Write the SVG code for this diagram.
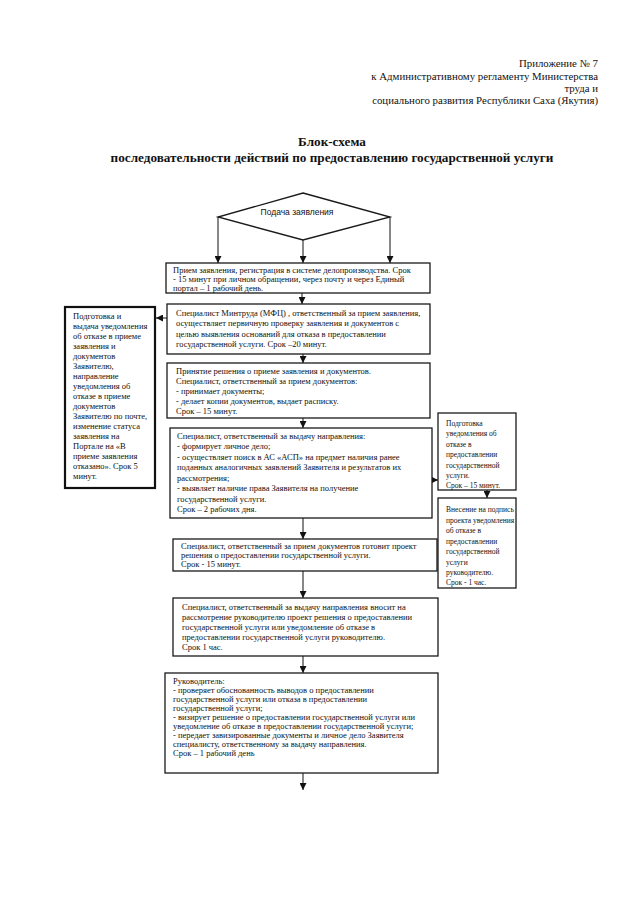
<svg xmlns="http://www.w3.org/2000/svg" width="631" height="905" viewBox="0 0 631 905">
<style>
.bg{fill:#ffffff}
.hd{font-family:"Liberation Serif","Times New Roman",serif;font-size:10.8px;fill:#111}
.tt{font-family:"Liberation Serif","Times New Roman",serif;font-size:13.2px;font-weight:bold;fill:#111}
.t{font-family:"Liberation Serif","Times New Roman",serif;font-size:8.5px;fill:#111}
.tr{font-family:"Liberation Serif","Times New Roman",serif;font-size:7.5px;fill:#111}
.ts{font-family:"Liberation Sans",Arial,sans-serif;font-size:8.5px;fill:#111}
.box{fill:#fff;stroke:#1a1a1a;stroke-width:1.3}
.thick{fill:#fff;stroke:#111;stroke-width:2.2}
.ln{fill:none;stroke:#111;stroke-width:1}
</style>
<defs>
<marker id="ah" viewBox="0 0 10 10" refX="10" refY="5" markerWidth="7" markerHeight="7" markerUnits="userSpaceOnUse" orient="auto">
<path d="M0,0 L10,5 L0,10 z" fill="#111"/>
</marker>
</defs>
<rect class="bg" x="0" y="0" width="631" height="905"/>

<g id="header">
<text class="hd" x="598" y="67" text-anchor="end">Приложение № 7</text>
<text class="hd" x="598" y="80" text-anchor="end">к Административному регламенту Министерства</text>
<text class="hd" x="598" y="92" text-anchor="end">труда и</text>
<text class="hd" x="598" y="104" text-anchor="end">социального развития Республики Саха (Якутия)</text>
</g>

<g id="title">
<text class="tt" x="332" y="146" text-anchor="middle">Блок-схема</text>
<text class="tt" x="332" y="162" text-anchor="middle">последовательности действий по предоставлению государственной услуги</text>
</g>

<g id="connectors">
<line class="ln" x1="218" y1="217" x2="218" y2="263" marker-end="url(#ah)"/>
<line class="ln" x1="303" y1="240" x2="303" y2="263" marker-end="url(#ah)"/>
<line class="ln" x1="390" y1="217" x2="390" y2="263" marker-end="url(#ah)"/>
<line class="ln" x1="302" y1="293" x2="302" y2="304" marker-end="url(#ah)"/>
<line class="ln" x1="167" y1="318" x2="156" y2="318" marker-end="url(#ah)"/>
<line class="ln" x1="303" y1="354" x2="303" y2="363" marker-end="url(#ah)"/>
<line class="ln" x1="303" y1="418" x2="303" y2="428" marker-end="url(#ah)"/>
<line class="ln" x1="432" y1="480" x2="438" y2="480" marker-end="url(#ah)"/>
<line class="ln" x1="487" y1="490" x2="487" y2="498" marker-end="url(#ah)"/>
<line class="ln" x1="303" y1="518" x2="303" y2="539" marker-end="url(#ah)"/>
<line class="ln" x1="303" y1="571" x2="303" y2="598" marker-end="url(#ah)"/>
<line class="ln" x1="303" y1="656" x2="303" y2="673" marker-end="url(#ah)"/>
<line class="ln" x1="303" y1="773" x2="303" y2="790" marker-end="url(#ah)"/>
</g>

<g id="start">
<polygon class="box" points="303,193 390,217 303,240 218,217"/>
<text class="ts" x="297" y="215" text-anchor="middle">Подача заявления</text>
</g>

<g id="box1">
<rect class="box" x="166" y="263" width="264" height="30"/>
<text class="t" x="173" y="273">Прием заявления, регистрация в системе делопроизводства. Срок</text>
<text class="t" x="173" y="282">- 15 минут при личном обращении, через почту и через Единый</text>
<text class="t" x="173" y="291">портал – 1 рабочий день.</text>
</g>

<g id="box2">
<rect class="box" x="167" y="304" width="263" height="50"/>
<text class="t" x="176" y="316">Специалист Минтруда (МФЦ) , ответственный за прием заявления,</text>
<text class="t" x="176" y="326">осуществляет первичную  проверку заявления и документов с</text>
<text class="t" x="176" y="337">целью выявления оснований для отказа в предоставлении</text>
<text class="t" x="176" y="347">государственной услуги.  Срок –20 минут.</text>
</g>

<g id="refuse">
<rect class="thick" x="65" y="307" width="90" height="181"/>
<text class="t" x="73" y="319">Подготовка  и</text>
<text class="t" x="73" y="329">выдача уведомления</text>
<text class="t" x="73" y="339">об отказе в приеме</text>
<text class="t" x="73" y="349">заявления и</text>
<text class="t" x="73" y="359">документов</text>
<text class="t" x="73" y="369">Заявителю,</text>
<text class="t" x="73" y="379">направление</text>
<text class="t" x="73" y="389">уведомления об</text>
<text class="t" x="73" y="399">отказе в приеме</text>
<text class="t" x="73" y="409">документов</text>
<text class="t" x="73" y="419">Заявителю по почте,</text>
<text class="t" x="73" y="429">изменение статуса</text>
<text class="t" x="73" y="439">заявления на</text>
<text class="t" x="73" y="449">Порталe на «В</text>
<text class="t" x="73" y="459">приеме заявления</text>
<text class="t" x="73" y="469">отказано». Срок 5</text>
<text class="t" x="73" y="479">минут.</text>
</g>

<g id="box3">
<rect class="box" x="167" y="363" width="263" height="55"/>
<text class="t" x="176" y="374">Принятие решения о приеме заявления и документов.</text>
<text class="t" x="176" y="384">Специалист, ответственный за прием документов:</text>
<text class="t" x="176" y="394">- принимает документы;</text>
<text class="t" x="176" y="404">- делает копии документов, выдает расписку.</text>
<text class="t" x="176" y="414">Срок – 15 минут.</text>
</g>

<g id="box4">
<rect class="box" x="170" y="428" width="262" height="90"/>
<text class="t" x="177" y="439">Специалист, ответственный за выдачу направления:</text>
<text class="t" x="177" y="449">- формирует личное дело;</text>
<text class="t" x="177" y="460">- осуществляет поиск в АС «АСП» на предмет наличия ранее</text>
<text class="t" x="177" y="470">поданных аналогичных заявлений Заявителя и результатов их</text>
<text class="t" x="177" y="481">рассмотрения;</text>
<text class="t" x="177" y="491">- выявляет наличие права Заявителя на получение</text>
<text class="t" x="177" y="502">государственной услуги.</text>
<text class="t" x="177" y="512">Срок – 2 рабочих дня.</text>
</g>

<g id="rbox1">
<rect class="box" x="438" y="413" width="78" height="77"/>
<text class="tr" x="446" y="426">Подготовка</text>
<text class="tr" x="446" y="436">уведомления об</text>
<text class="tr" x="446" y="447">отказе в</text>
<text class="tr" x="446" y="457">предоставлении</text>
<text class="tr" x="446" y="468">государственной</text>
<text class="tr" x="446" y="478">услуги.</text>
<text class="tr" x="446" y="488">Срок – 15 минут.</text>
</g>

<g id="rbox2">
<rect class="box" x="438" y="498" width="78" height="90"/>
<text class="tr" x="446" y="512">Внесение на подпись</text>
<text class="tr" x="446" y="523">проекта уведомления</text>
<text class="tr" x="446" y="533">об отказе в</text>
<text class="tr" x="446" y="544">предоставлении</text>
<text class="tr" x="446" y="554">государственной</text>
<text class="tr" x="446" y="565">услуги</text>
<text class="tr" x="446" y="575">руководителю.</text>
<text class="tr" x="446" y="585"> Срок - 1 час.</text>
</g>

<g id="box5">
<rect class="box" x="173" y="539" width="264" height="32"/>
<text class="t" x="181" y="549">Специалист, ответственный за прием документов готовит проект</text>
<text class="t" x="181" y="558">решения о предоставлении государственной услуги.</text>
<text class="t" x="181" y="567"> Срок  - 15 минут.</text>
</g>

<g id="box6">
<rect class="box" x="173" y="598" width="265" height="58"/>
<text class="t" x="182" y="610">Специалист, ответственный за выдачу направления вносит на</text>
<text class="t" x="182" y="620">рассмотрение руководителю проект  решения о предоставлении</text>
<text class="t" x="182" y="630">государственной услуги или уведомление об отказе в</text>
<text class="t" x="182" y="640">предоставлении государственной услуги руководителю.</text>
<text class="t" x="182" y="650"> Срок 1 час.</text>
</g>

<g id="box7">
<rect class="box" x="165" y="673" width="273" height="100"/>
<text class="t" x="173" y="684">Руководитель:</text>
<text class="t" x="173" y="693">-  проверяет обоснованность выводов о предоставлении</text>
<text class="t" x="173" y="702">государственной услуги или отказа в предоставлении</text>
<text class="t" x="173" y="711">государственной услуги;</text>
<text class="t" x="173" y="720">- визирует решение о предоставлении государственной услуги или</text>
<text class="t" x="173" y="729">уведомление об отказе в предоставлении государственной услуги;</text>
<text class="t" x="173" y="738">- передает завизированные документы и личное дело Заявителя</text>
<text class="t" x="173" y="747">специалисту, ответственному за выдачу направления.</text>
<text class="t" x="173" y="756">Срок – 1 рабочий день</text>
</g>
</svg>
